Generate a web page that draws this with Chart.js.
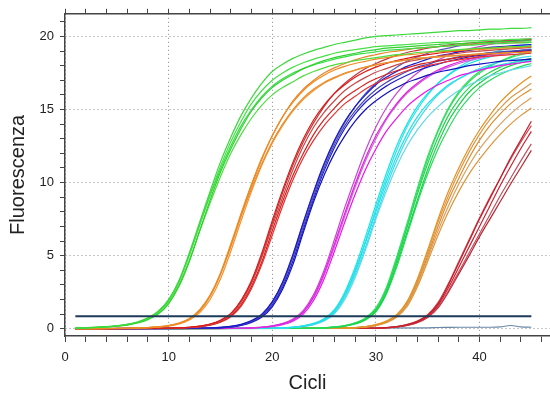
<!DOCTYPE html>
<html>
<head>
<meta charset="utf-8">
<script src="https://cdn.jsdelivr.net/npm/chart.js@4/dist/chart.umd.min.js"></script>
<style>
  html, body { margin: 0; padding: 0; background: #fff; }
  #chart { display: block; }
</style>
</head>
<body>
<canvas id="chart" width="550" height="395"></canvas>
<script>
/* amplification curves, one array per well, values from the start cycle of each group */

const cycles = [1, 2, 3, 4, 5, 6, 7, 8, 9, 10, 11, 12, 13, 14, 15, 16, 17, 18, 19, 20,
  21, 22, 23, 24, 25, 26, 27, 28, 29, 30, 31, 32, 33, 34, 35, 36, 37, 38, 39, 40,
  41, 42, 43, 44, 45];

const xTicks = [0, 2, 4, 6, 8, 10, 12, 14, 16, 18, 20, 22, 24, 26, 28, 30, 32, 34, 36, 38, 40, 42, 44, 46];
const xTickLabels = [0, 10, 20, 30, 40];
const yTicks = [0, 1, 2, 3, 4, 5, 6, 7, 8, 9, 10, 11, 12, 13, 14, 15, 16, 17, 18, 19, 20, 21];
const yTickLabels = [0, 5, 10, 15, 20];

const threshold = 0.85;
const thresholdCycles = [1, 45];
const baseline = 0;

// green, first dilution (from cycle 1)
const green1Start = 1;
const green1 = [
  [0.05, 0.07, 0.1, 0.14, 0.2, 0.3, 0.46, 0.74, 1.2, 2.0, 3.3, 5.2, 7.3, 9.4, 11.4, 13.1, 14.6, 15.8, 16.8, 17.6,
    18.1, 18.5, 18.8, 19.05, 19.25, 19.45, 19.6, 19.75, 19.9, 20.0, 20.05, 20.1, 20.15, 20.2, 20.25, 20.3, 20.35, 20.4, 20.4, 20.45,
    20.5, 20.5, 20.55, 20.55, 20.6],
  [0.04, 0.06, 0.09, 0.13, 0.19, 0.28, 0.44, 0.7, 1.15, 1.9, 3.2, 5.0, 7.1, 9.2, 11.1, 12.8, 14.2, 15.4, 16.3, 17.0,
    17.5, 17.9, 18.2, 18.45, 18.65, 18.85, 19.0, 19.1, 19.2, 19.3, 19.35, 19.4, 19.45, 19.5, 19.55, 19.6, 19.6, 19.65, 19.7, 19.7,
    19.75, 19.75, 19.8, 19.8, 19.85],
  [0.04, 0.05, 0.08, 0.12, 0.17, 0.25, 0.39, 0.62, 1.0, 1.7, 2.9, 4.6, 6.7, 8.8, 10.7, 12.3, 13.7, 14.9, 15.8, 16.5,
    17.0, 17.4, 17.8, 18.1, 18.35, 18.55, 18.7, 18.85, 19.0, 19.1, 19.2, 19.25, 19.3, 19.35, 19.4, 19.45, 19.5, 19.5, 19.55, 19.6,
    19.6, 19.65, 19.65, 19.7, 19.7],
  [0.04, 0.06, 0.09, 0.12, 0.18, 0.27, 0.41, 0.66, 1.08, 1.8, 3.0, 4.7, 6.7, 8.6, 10.4, 12.0, 13.3, 14.4, 15.3, 16.0,
    16.5, 16.9, 17.3, 17.6, 17.85, 18.05, 18.2, 18.35, 18.45, 18.55, 18.65, 18.75, 18.8, 18.9, 18.95, 19.0, 19.05, 19.1, 19.15, 19.2,
    19.2, 19.25, 19.3, 19.3, 19.35],
  [0.05, 0.07, 0.1, 0.14, 0.2, 0.3, 0.46, 0.73, 1.18, 1.95, 3.25, 5.1, 7.1, 9.1, 10.9, 12.5, 13.9, 15.0, 15.9, 16.6,
    17.1, 17.5, 17.8, 18.05, 18.25, 18.45, 18.6, 18.75, 18.85, 18.95, 19.05, 19.1, 19.15, 19.2, 19.25, 19.3, 19.35, 19.4, 19.4, 19.45,
    19.5, 19.5, 19.55, 19.55, 19.6]
];

// orange, second dilution (from cycle 6)
const orange1Start = 6;
const orange1 = [
  [0.03, 0.05, 0.08, 0.13, 0.22, 0.38, 0.7, 1.3, 2.3, 3.8, 5.8, 7.9, 9.9, 11.7, 13.2, 14.5, 15.5, 16.3, 16.9, 17.35,
    17.7, 17.95, 18.15, 18.3, 18.45, 18.55, 18.65, 18.75, 18.8, 18.9, 18.95, 19.0, 19.05, 19.1, 19.1, 19.15, 19.2, 19.2, 19.25, 19.3],
  [0.03, 0.04, 0.07, 0.12, 0.2, 0.35, 0.65, 1.2, 2.2, 3.7, 5.6, 7.7, 9.6, 11.3, 12.8, 14.0, 15.0, 15.8, 16.4, 16.85,
    17.2, 17.5, 17.7, 17.9, 18.05, 18.2, 18.3, 18.4, 18.5, 18.55, 18.6, 18.65, 18.7, 18.75, 18.8, 18.85, 18.85, 18.9, 18.9, 18.95],
  [0.02, 0.04, 0.06, 0.1, 0.18, 0.32, 0.6, 1.1, 2.0, 3.4, 5.3, 7.4, 9.4, 11.2, 12.7, 13.9, 14.9, 15.7, 16.3, 16.8,
    17.15, 17.45, 17.7, 17.9, 18.05, 18.2, 18.3, 18.4, 18.5, 18.55, 18.6, 18.65, 18.7, 18.75, 18.8, 18.8, 18.85, 18.9, 18.9, 18.95],
  [0.03, 0.05, 0.08, 0.13, 0.21, 0.37, 0.68, 1.25, 2.25, 3.75, 5.7, 7.8, 9.8, 11.6, 13.2, 14.5, 15.6, 16.4, 17.0, 17.5,
    17.85, 18.15, 18.4, 18.6, 18.75, 18.9, 19.0, 19.1, 19.2, 19.25, 19.3, 19.35, 19.4, 19.45, 19.5, 19.5, 19.55, 19.55, 19.6, 19.6]
];

// red (from cycle 10)
const redStart = 10;
const red = [
  [0.03, 0.06, 0.1, 0.18, 0.32, 0.58, 1.05, 1.95, 3.3, 5.2, 7.4, 9.5, 11.4, 13.0, 14.3, 15.3, 16.1, 16.7, 17.2, 17.6,
    17.9, 18.15, 18.35, 18.5, 18.65, 18.75, 18.85, 18.95, 19.0, 19.1, 19.15, 19.2, 19.25, 19.3, 19.3, 19.35],
  [0.03, 0.05, 0.09, 0.16, 0.29, 0.52, 0.95, 1.8, 3.1, 4.9, 7.0, 9.0, 10.9, 12.5, 13.8, 14.8, 15.6, 16.3, 16.8, 17.2,
    17.55, 17.8, 18.05, 18.25, 18.4, 18.55, 18.65, 18.75, 18.85, 18.95, 19.0, 19.05, 19.1, 19.15, 19.2, 19.25],
  [0.02, 0.04, 0.08, 0.14, 0.26, 0.47, 0.87, 1.65, 2.9, 4.6, 6.7, 8.7, 10.5, 12.0, 13.3, 14.3, 15.1, 15.8, 16.3, 16.75,
    17.1, 17.4, 17.65, 17.85, 18.05, 18.2, 18.35, 18.45, 18.55, 18.65, 18.75, 18.8, 18.85, 18.9, 18.95, 19.0],
  [0.03, 0.05, 0.09, 0.17, 0.3, 0.55, 1.0, 1.9, 3.2, 5.0, 7.2, 9.3, 11.2, 12.8, 14.1, 15.2, 16.1, 16.8, 17.35, 17.8,
    18.15, 18.45, 18.7, 18.9, 19.05, 19.2, 19.3, 19.4, 19.5, 19.55, 19.6, 19.65, 19.7, 19.75, 19.8, 19.8],
  [0.02, 0.04, 0.07, 0.13, 0.24, 0.44, 0.82, 1.55, 2.75, 4.4, 6.4, 8.4, 10.2, 11.7, 12.9, 13.9, 14.7, 15.4, 15.9, 16.4,
    16.8, 17.1, 17.4, 17.65, 17.85, 18.0, 18.15, 18.3, 18.4, 18.5, 18.6, 18.65, 18.7, 18.75, 18.8, 18.85]
];

// blue (from cycle 13)
const blueStart = 13;
const blue = [
  [0.03, 0.05, 0.09, 0.16, 0.3, 0.55, 1.0, 1.85, 3.2, 5.1, 7.3, 9.4, 11.3, 12.9, 14.2, 15.2, 16.0, 16.7, 17.2, 17.6,
    17.95, 18.2, 18.45, 18.65, 18.8, 18.95, 19.05, 19.15, 19.25, 19.3, 19.35, 19.4, 19.45],
  [0.02, 0.04, 0.08, 0.14, 0.27, 0.5, 0.92, 1.75, 3.0, 4.9, 7.0, 9.1, 11.0, 12.6, 13.9, 14.9, 15.7, 16.35, 16.85, 17.25,
    17.6, 17.9, 18.1, 18.3, 18.45, 18.6, 18.7, 18.8, 18.9, 18.95, 19.0, 19.05, 19.1],
  [0.02, 0.04, 0.07, 0.13, 0.25, 0.46, 0.86, 1.62, 2.85, 4.65, 6.8, 8.9, 10.8, 12.4, 13.7, 14.7, 15.5, 16.1, 16.6, 17.0,
    17.35, 17.65, 17.9, 18.1, 18.3, 18.45, 18.6, 18.7, 18.8, 18.9, 18.95, 19.0, 19.05],
  [0.03, 0.05, 0.09, 0.16, 0.29, 0.53, 0.97, 1.82, 3.15, 5.0, 7.2, 9.3, 11.2, 12.8, 14.1, 15.2, 16.1, 16.8, 17.4, 17.9,
    18.3, 18.6, 18.85, 19.05, 19.2, 19.35, 19.45, 19.55, 19.6, 19.65, 19.7, 19.75, 19.8],
  [0.02, 0.03, 0.06, 0.12, 0.22, 0.42, 0.8, 1.5, 2.7, 4.4, 6.6, 8.7, 10.5, 12.0, 13.2, 14.2, 15.0, 15.6, 16.1, 16.5,
    16.85, 17.1, 17.35, 17.55, 17.7, 17.85, 18.0, 18.1, 18.2, 18.3, 18.35, 18.4, 18.45]
];

// magenta (from cycle 17)
const magentaStart = 17;
const magenta = [
  [0.03, 0.05, 0.1, 0.18, 0.33, 0.6, 1.15, 2.2, 3.8, 5.8, 7.9, 9.9, 11.7, 13.2, 14.4, 15.4, 16.2, 16.8, 17.3, 17.7,
    18.0, 18.25, 18.45, 18.6, 18.75, 18.85, 18.95, 19.05, 19.1],
  [0.03, 0.05, 0.09, 0.17, 0.31, 0.57, 1.1, 2.1, 3.65, 5.6, 7.7, 9.7, 11.5, 13.0, 14.3, 15.3, 16.1, 16.7, 17.2, 17.6,
    17.9, 18.15, 18.35, 18.5, 18.65, 18.75, 18.85, 18.95, 19.0],
  [0.03, 0.06, 0.11, 0.2, 0.36, 0.66, 1.25, 2.35, 4.0, 6.1, 8.3, 10.3, 12.2, 13.8, 15.1, 16.1, 16.9, 17.5, 18.0, 18.4,
    18.7, 18.95, 19.15, 19.3, 19.45, 19.55, 19.65, 19.7, 19.75],
  [0.02, 0.04, 0.08, 0.15, 0.28, 0.52, 1.0, 1.95, 3.4, 5.3, 7.3, 9.2, 10.9, 12.3, 13.5, 14.4, 15.2, 15.8, 16.3, 16.7,
    17.0, 17.3, 17.5, 17.7, 17.85, 18.0, 18.1, 18.2, 18.3]
];

// cyan (from cycle 20)
const cyanStart = 20;
const cyan = [
  [0.03, 0.05, 0.1, 0.18, 0.33, 0.62, 1.2, 2.3, 3.9, 5.9, 8.0, 10.0, 11.8, 13.3, 14.5, 15.4, 16.1, 16.7, 17.1, 17.45,
    17.7, 17.9, 18.05, 18.2, 18.3, 18.4],
  [0.02, 0.04, 0.09, 0.16, 0.3, 0.57, 1.1, 2.15, 3.7, 5.6, 7.7, 9.7, 11.5, 13.0, 14.2, 15.2, 16.0, 16.6, 17.1, 17.5,
    17.8, 18.05, 18.25, 18.4, 18.55, 18.65],
  [0.03, 0.06, 0.11, 0.2, 0.36, 0.68, 1.3, 2.5, 4.2, 6.3, 8.5, 10.6, 12.5, 14.0, 15.2, 16.1, 16.8, 17.35, 17.8, 18.15,
    18.4, 18.6, 18.8, 18.95, 19.05, 19.15],
  [0.02, 0.04, 0.08, 0.15, 0.28, 0.53, 1.02, 2.0, 3.5, 5.4, 7.5, 9.4, 11.1, 12.5, 13.6, 14.5, 15.2, 15.8, 16.3, 16.7,
    17.0, 17.3, 17.5, 17.7, 17.85, 18.0],
  [0.03, 0.05, 0.1, 0.19, 0.34, 0.64, 1.22, 2.35, 4.0, 6.0, 8.2, 10.3, 12.2, 13.8, 15.0, 16.0, 16.8, 17.4, 17.9, 18.3,
    18.6, 18.85, 19.05, 19.2, 19.35, 19.45]
];

// green, later dilution (from cycle 24)
const green2Start = 24;
const green2 = [
  [0.03, 0.06, 0.11, 0.2, 0.37, 0.68, 1.3, 2.6, 4.6, 6.9, 9.2, 11.3, 13.1, 14.6, 15.7, 16.5, 17.1, 17.55, 17.9, 18.15, 18.35, 18.5],
  [0.03, 0.06, 0.12, 0.22, 0.4, 0.74, 1.42, 2.8, 4.9, 7.2, 9.6, 11.8, 13.6, 15.1, 16.2, 17.0, 17.6, 18.0, 18.3, 18.55, 18.75, 18.9],
  [0.02, 0.05, 0.1, 0.18, 0.34, 0.63, 1.2, 2.45, 4.4, 6.6, 8.8, 10.9, 12.7, 14.2, 15.3, 16.2, 16.8, 17.3, 17.7, 18.0, 18.2, 18.35],
  [0.03, 0.06, 0.11, 0.21, 0.38, 0.7, 1.35, 2.7, 4.75, 7.0, 9.4, 11.6, 13.5, 15.0, 16.1, 16.9, 17.5, 17.95, 18.3, 18.6, 18.85, 19.05],
  [0.02, 0.05, 0.09, 0.17, 0.32, 0.6, 1.15, 2.35, 4.2, 6.4, 8.6, 10.6, 12.3, 13.7, 14.9, 15.8, 16.5, 17.0, 17.4, 17.7, 17.95, 18.15]
];

// orange, later dilution (from cycle 27)
const orange2Start = 27;
const orange2 = [
  [0.04, 0.08, 0.15, 0.28, 0.52, 0.95, 1.85, 3.4, 5.4, 7.5, 9.4, 11.0, 12.4, 13.6, 14.6, 15.5, 16.2, 16.8, 17.3],
  [0.04, 0.07, 0.14, 0.26, 0.49, 0.9, 1.75, 3.25, 5.2, 7.3, 9.1, 10.7, 12.1, 13.3, 14.3, 15.1, 15.8, 16.3, 16.8],
  [0.03, 0.07, 0.13, 0.25, 0.47, 0.87, 1.7, 3.15, 5.0, 7.0, 8.8, 10.3, 11.7, 12.9, 13.9, 14.7, 15.4, 15.95, 16.4],
  [0.03, 0.06, 0.12, 0.23, 0.44, 0.82, 1.6, 3.0, 4.8, 6.7, 8.4, 9.9, 11.2, 12.3, 13.2, 14.0, 14.7, 15.3, 15.8],
  [0.03, 0.06, 0.11, 0.21, 0.41, 0.78, 1.5, 2.85, 4.6, 6.4, 8.0, 9.4, 10.6, 11.6, 12.5, 13.3, 14.0, 14.6, 15.1]
];

// dark red, last dilution (from cycle 30)
const darkRedStart = 30;
const darkRed = [
  [0.04, 0.08, 0.15, 0.28, 0.5, 0.92, 1.7, 3.0, 4.5, 6.0, 7.5, 8.9, 10.3, 11.7, 12.95, 14.2],
  [0.04, 0.08, 0.15, 0.28, 0.52, 0.96, 1.8, 3.1, 4.6, 6.1, 7.6, 9.0, 10.3, 11.6, 12.8, 13.9],
  [0.03, 0.07, 0.13, 0.25, 0.46, 0.85, 1.6, 2.8, 4.2, 5.6, 7.0, 8.4, 9.8, 11.1, 12.35, 13.5],
  [0.03, 0.06, 0.12, 0.23, 0.43, 0.8, 1.5, 2.6, 3.9, 5.2, 6.5, 7.8, 9.1, 10.3, 11.5, 12.65],
  [0.03, 0.06, 0.12, 0.22, 0.41, 0.76, 1.42, 2.5, 3.75, 5.0, 6.3, 7.5, 8.7, 9.9, 11.05, 12.2]
];

// negative control, flat (from cycle 35)
const ntcStart = 35;
const ntc = [0.06, 0.08, 0.09, 0.1, 0.1, 0.1, 0.1, 0.12, 0.22, 0.12, 0.1];

/* colours per group */
const palette = {
  green1: ['#3cd83c', '#46e046', '#30d030', '#50dc40', '#38dc48'],
  orange1: ['#f08a20', '#e8902c', '#f59030', '#e88424'],
  red: ['#e01818', '#c84848', '#d82020', '#c03838', '#e83030'],
  blue: ['#1818d0', '#4848b0', '#2020c8', '#5858b8', '#1010c0'],
  magenta: ['#e020e0', '#d060d8', '#c848d0', '#f010f0'],
  cyan: ['#20e0e8', '#40d8f0', '#10e8e0', '#60d8e8', '#30e0f0'],
  green2: ['#20d850', '#30e060', '#18d048', '#40d860', '#28dc58'],
  orange2: ['#e8901c', '#d89a50', '#e08c28', '#d8a060', '#e09438'],
  darkRed: ['#c81c28', '#c84a58', '#d02030', '#c05060', '#b82830'],
  ntc: '#6a88a8',
  threshold: '#1d3b58'
};

const FONT = "'Liberation Sans', Arial, sans-serif";

function toPoints(start, values) {
  const pts = [];
  if (start > cycles[0]) pts.push({ x: cycles[0], y: baseline });
  values.forEach(function (v, i) {
    pts.push({ x: cycles[start - cycles[0] + i], y: v });
  });
  return pts;
}

function groupSets(start, curves, colors) {
  return curves.map(function (values, i) {
    return {
      data: toPoints(start, values),
      borderColor: colors[i % colors.length],
      borderWidth: 1.2,
      pointRadius: 0,
      fill: false,
      cubicInterpolationMode: 'monotone'
    };
  });
}

const datasets = [
  {
    data: thresholdCycles.map(function (c) { return { x: c, y: threshold }; }),
    borderColor: palette.threshold,
    borderWidth: 2,
    pointRadius: 0,
    fill: false
  }
].concat(
  groupSets(green1Start, green1, palette.green1),
  groupSets(orange1Start, orange1, palette.orange1),
  groupSets(redStart, red, palette.red),
  groupSets(blueStart, blue, palette.blue),
  groupSets(magentaStart, magenta, palette.magenta),
  groupSets(cyanStart, cyan, palette.cyan),
  groupSets(green2Start, green2, palette.green2),
  groupSets(orange2Start, orange2, palette.orange2),
  groupSets(darkRedStart, darkRed, palette.darkRed),
  groupSets(ntcStart, [ntc], [palette.ntc])
);

const X_MIN = 0, X_MAX = 46.8, Y_MIN = -0.5, Y_MAX = 21.55;

new Chart(document.getElementById('chart'), {
  type: 'line',
  data: { datasets: datasets },
  options: {
    responsive: false,
    animation: false,
    devicePixelRatio: 1,
    layout: { padding: 0 },
    plugins: { legend: { display: false }, tooltip: { enabled: false } },
    scales: {
      x: {
        type: 'linear',
        position: 'bottom',
        min: X_MIN,
        max: X_MAX,
        afterBuildTicks: function (s) { s.ticks = xTicks.map(function (v) { return { value: v }; }); },
        afterFit: function (s) { s.height = 59; },
        ticks: {
          autoSkip: false,
          maxRotation: 0,
          padding: 8,
          color: '#222',
          font: { family: FONT, size: 13 },
          callback: function (v) { return xTickLabels.indexOf(v) >= 0 ? String(v) : ''; }
        },
        grid: {
          color: function (ctx) { return ctx.tick && ctx.tick.value % 10 === 0 ? '#8c8c8c' : 'rgba(0,0,0,0)'; },
          lineWidth: 1,
          tickColor: '#444',
          tickLength: 6
        },
        border: { color: '#444', width: 1.5, dash: [1, 3] },
        title: { display: true, text: 'Cicli', color: '#222', font: { family: FONT, size: 20 }, padding: { top: 0, bottom: 0 } }
      },
      xTop: {
        type: 'linear',
        position: 'top',
        min: X_MIN,
        max: X_MAX,
        afterBuildTicks: function (s) { s.ticks = xTicks.map(function (v) { return { value: v }; }); },
        afterFit: function (s) { s.height = 12; },
        ticks: { display: false },
        grid: { drawOnChartArea: false, tickColor: '#444', tickLength: 5 },
        border: { color: '#444', width: 1.5 }
      },
      y: {
        type: 'linear',
        position: 'left',
        min: Y_MIN,
        max: Y_MAX,
        afterBuildTicks: function (s) { s.ticks = yTicks.map(function (v) { return { value: v }; }); },
        afterFit: function (s) { s.width = 65; },
        ticks: {
          autoSkip: false,
          padding: 6,
          color: '#222',
          font: { family: FONT, size: 13 },
          callback: function (v) { return yTickLabels.indexOf(v) >= 0 ? String(v) : ''; }
        },
        grid: {
          color: function (ctx) { return ctx.tick && ctx.tick.value % 5 === 0 ? '#8c8c8c' : 'rgba(0,0,0,0)'; },
          lineWidth: 1,
          tickColor: '#444',
          tickLength: 5
        },
        border: { color: '#444', width: 1.5, dash: [1, 3] },
        title: { display: true, text: 'Fluorescenza', color: '#222', font: { family: FONT, size: 20 }, padding: { top: 6, bottom: 0 } }
      }
    }
  }
});
</script>
</body>
</html>
